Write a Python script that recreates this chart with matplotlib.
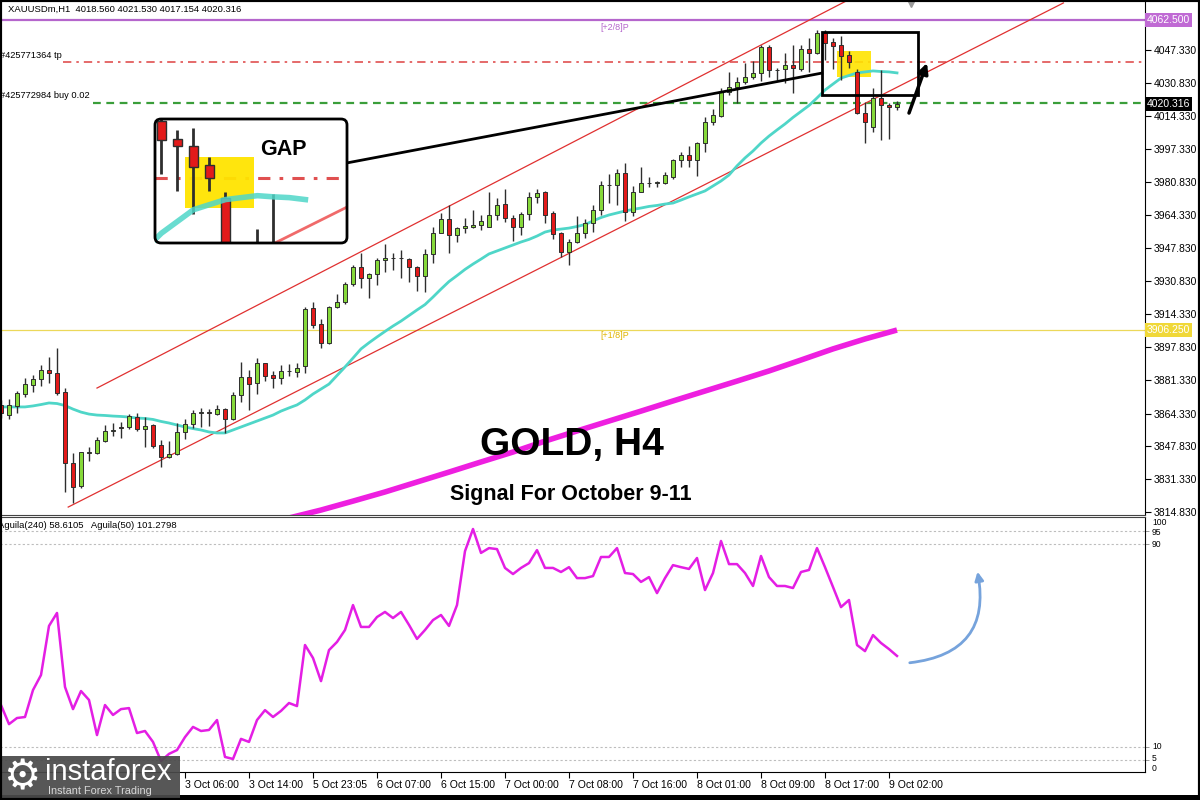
import matplotlib
matplotlib.use("Agg")
import matplotlib.pyplot as plt
import matplotlib.transforms as mtransforms
from matplotlib.patches import Rectangle, FancyBboxPatch, FancyArrowPatch

plt.rcParams['font.family'] = ['Liberation Sans', 'DejaVu Sans']

# ---------------- data (XAUUSDm, H1) ----------------
opens = [3868.7, 3863.6, 3868.2, 3874.2, 3878.7, 3881.7, 3886.3, 3884.8, 3875.4, 3839.6,
         3827.9, 3844.6, 3844.3, 3850.5, 3855.8, 3857.6, 3857.6, 3862.6, 3856.6, 3858.6,
         3848.5, 3842.5, 3844.0, 3855.1, 3859.1, 3864.6, 3865.1, 3864.1, 3866.6, 3861.6,
         3873.7, 3882.7, 3879.7, 3889.8, 3883.8, 3882.2, 3885.8, 3885.3, 3888.3, 3917.5,
         3909.4, 3899.9, 3917.9, 3920.5, 3929.6, 3938.1, 3932.6, 3934.6, 3941.6, 3942.4,
         3942.6, 3942.1, 3938.1, 3933.6, 3944.7, 3955.2, 3962.3, 3954.2, 3957.7, 3958.1,
         3959.1, 3958.3, 3964.3, 3969.8, 3962.8, 3958.3, 3964.8, 3973.4, 3975.9, 3965.3,
         3955.2, 3945.7, 3950.7, 3955.2, 3960.3, 3966.8, 3979.4, 3979.4, 3985.4, 3965.8,
         3975.9, 3980.4, 3980.4, 3980.4, 3983.4, 3992.0, 3994.5, 3992.0, 4000.5, 4011.1,
         4014.1, 4026.2, 4028.7, 4031.2, 4033.8, 4035.8, 4048.8, 4037.3, 4037.8, 4039.8,
         4037.8, 4047.8, 4045.8, 4055.9, 4051.2, 4049.6, 4044.6, 4036.1, 4015.6, 4008.6,
         4023.2, 4019.7, 4018.56]
highs = [3871.2, 3871.7, 3875.5, 3882.5, 3884.0, 3889.0, 3892.6, 3897.4, 3877.3, 3844.3,
         3845.0, 3847.6, 3852.7, 3858.7, 3859.6, 3860.1, 3864.3, 3864.6, 3862.6, 3859.3,
         3851.0, 3850.5, 3859.6, 3861.4, 3866.3, 3867.0, 3866.5, 3868.7, 3867.3, 3875.2,
         3890.3, 3886.1, 3892.3, 3889.8, 3885.8, 3888.8, 3889.3, 3889.8, 3918.0, 3920.5,
         3912.2, 3918.3, 3924.5, 3930.8, 3939.0, 3945.1, 3935.1, 3942.8, 3949.8, 3945.3,
         3946.7, 3942.6, 3938.6, 3947.0, 3958.2, 3965.1, 3969.3, 3958.4, 3962.6, 3967.0,
         3964.2, 3975.9, 3972.6, 3977.5, 3964.3, 3965.6, 3975.8, 3977.5, 3976.6, 3966.3,
         3955.7, 3952.3, 3963.9, 3962.3, 3969.3, 3981.4, 3984.9, 3987.4, 3990.4, 3979.1,
         3988.4, 3983.6, 3981.2, 3986.1, 3992.5, 3996.2, 3998.8, 4001.0, 4013.6, 4017.5,
         4028.4, 4036.2, 4033.8, 4040.6, 4041.6, 4049.6, 4049.6, 4038.3, 4045.8, 4049.8,
         4049.8, 4053.4, 4057.4, 4057.4, 4053.5, 4054.2, 4046.7, 4037.8, 4021.2, 4028.2,
         4037.3, 4020.7, 4021.53]
lows = [3862.1, 3861.6, 3864.5, 3872.6, 3875.4, 3878.0, 3879.7, 3873.7, 3825.0, 3819.2,
        3827.0, 3840.5, 3843.8, 3850.0, 3853.0, 3852.0, 3856.6, 3855.6, 3847.5, 3847.2,
        3837.4, 3842.1, 3843.3, 3851.5, 3857.0, 3857.7, 3858.0, 3863.6, 3854.6, 3861.0,
        3870.2, 3866.3, 3874.2, 3880.5, 3877.0, 3879.2, 3883.3, 3883.0, 3884.6, 3907.4,
        3897.4, 3899.2, 3917.5, 3919.3, 3928.8, 3927.6, 3922.5, 3929.1, 3935.6, 3936.6,
        3932.4, 3930.8, 3926.0, 3925.6, 3940.1, 3955.0, 3945.2, 3950.8, 3955.2, 3957.6,
        3956.7, 3958.3, 3961.9, 3960.8, 3951.2, 3954.2, 3961.8, 3970.3, 3960.3, 3952.1,
        3943.1, 3939.1, 3950.3, 3952.7, 3955.7, 3964.2, 3970.3, 3969.3, 3961.3, 3963.7,
        3975.9, 3978.5, 3978.5, 3979.7, 3982.5, 3988.6, 3988.6, 3983.9, 3995.9, 4009.4,
        4013.6, 4024.7, 4020.7, 4030.0, 4032.7, 4031.9, 4033.9, 4032.2, 4030.7, 4025.7,
        4036.8, 4036.3, 4045.3, 4042.3, 4037.9, 4032.1, 4038.1, 4015.1, 4000.5, 4006.1,
        4002.0, 4002.5, 4017.154]
closes = [3864.7, 3868.7, 3874.7, 3879.2, 3881.8, 3886.3, 3884.8, 3874.7, 3839.6, 3827.5,
          3844.8, 3844.8, 3851.0, 3855.6, 3856.1, 3857.3, 3863.1, 3856.6, 3858.1, 3848.0,
          3842.5, 3844.0, 3855.1, 3859.1, 3864.6, 3865.1, 3864.6, 3866.6, 3861.6, 3873.7,
          3882.7, 3879.2, 3889.8, 3883.3, 3882.2, 3885.8, 3885.8, 3887.3, 3916.8, 3908.9,
          3899.9, 3917.9, 3920.5, 3929.6, 3938.1, 3932.6, 3934.6, 3941.6, 3942.6, 3942.6,
          3942.4, 3938.1, 3933.6, 3944.7, 3955.2, 3962.3, 3954.2, 3957.7, 3958.7, 3959.1,
          3961.3, 3964.3, 3969.3, 3962.8, 3958.3, 3964.8, 3973.4, 3975.4, 3964.3, 3954.7,
          3945.7, 3950.7, 3955.2, 3960.3, 3966.8, 3979.4, 3979.4, 3985.4, 3965.8, 3975.9,
          3980.4, 3980.4, 3980.9, 3984.4, 3992.0, 3994.5, 3992.0, 4000.5, 4011.1, 4014.6,
          4026.2, 4028.7, 4031.2, 4033.8, 4035.8, 4048.8, 4037.3, 4037.3, 4039.8, 4038.3,
          4047.8, 4045.8, 4055.9, 4051.0, 4049.5, 4044.1, 4041.2, 4015.6, 4011.1, 4023.2,
          4019.7, 4018.7, 4020.316]

# fast moving average (cyan), one value per candle
ma_fast = [3867.7, 3867.7, 3867.7, 3867.7, 3868.2, 3868.9, 3869.7, 3869.4, 3868.4, 3866.6,
           3865.1, 3864.1, 3863.6, 3863.4, 3863.1, 3862.9, 3862.6, 3862.1, 3861.9, 3861.4,
           3860.4, 3859.6, 3858.6, 3857.6, 3856.8, 3856.1, 3855.1, 3854.6, 3854.6, 3856.1,
           3857.6, 3859.1, 3860.6, 3862.1, 3863.6, 3865.6, 3867.2, 3868.7, 3871.2, 3874.2,
           3876.7, 3879.2, 3883.5, 3887.8, 3892.3, 3896.9, 3900.0, 3902.9, 3905.7, 3908.4,
           3910.9, 3913.7, 3916.5, 3919.2, 3923.0, 3927.0, 3930.8, 3933.8, 3936.9, 3939.6,
           3942.1, 3944.7, 3946.2, 3947.7, 3949.2, 3950.7, 3952.0, 3953.7, 3955.7, 3956.7,
           3957.2, 3957.7, 3958.5, 3959.5, 3961.3, 3963.0, 3964.3, 3965.3, 3966.3, 3967.1,
           3967.8, 3968.6, 3969.1, 3969.8, 3970.3, 3971.8, 3973.4, 3974.9, 3976.4, 3978.9,
           3981.4, 3984.4, 3989.0, 3993.0, 3996.5, 4000.5, 4004.0, 4007.1, 4010.1, 4013.4,
           4016.4, 4019.4, 4023.2, 4027.2, 4030.2, 4033.2, 4034.5, 4035.8, 4036.3, 4036.8,
           4036.5, 4036.3, 4035.8]

# slow moving average (thick magenta), read every 4th candle
ma_slow_idx = [36, 40, 44, 48, 52, 56, 60, 64, 68, 72, 76, 80, 84, 88, 92, 96, 100, 104, 108, 112]
ma_slow = [3811.8, 3815.8, 3820.3, 3824.9, 3829.9, 3834.9, 3840.0, 3845.0, 3850.5, 3855.6,
           3860.6, 3865.6, 3870.7, 3875.7, 3880.7, 3885.8, 3891.3, 3896.9, 3901.9, 3906.4]

# oscillator in the lower window, one value per candle
aguila = [26.6, 19.1, 21.5, 21.9, 32.5, 38.4, 57.7, 62.8, 33.7, 25.0,
          32.1, 28.6, 14.8, 26.6, 22.7, 25.0, 25.4, 15.6, 16.4, 12.1,
          4.6, 7.4, 8.9, 14.0, 18.0, 16.4, 16.8, 20.7, 6.2, 5.4,
          13.3, 12.1, 20.7, 24.6, 21.9, 24.3, 27.4, 26.2, 50.2, 45.1,
          36.0, 48.2, 51.4, 56.1, 65.9, 57.3, 57.3, 61.2, 63.2, 60.8,
          63.2, 58.1, 52.6, 56.1, 60.0, 62.0, 57.7, 65.9, 87.1, 95.8,
          86.4, 88.3, 87.9, 80.5, 78.1, 80.5, 82.4, 87.5, 80.5, 80.5,
          78.9, 80.8, 76.5, 76.5, 77.3, 84.8, 84.8, 88.3, 78.5, 78.1,
          75.0, 76.9, 70.6, 76.5, 81.6, 80.8, 80.1, 84.4, 71.8, 78.5,
          91.1, 82.0, 82.0, 78.5, 73.4, 85.2, 76.9, 73.4, 73.4, 72.6,
          78.9, 79.7, 88.3, 80.8, 73.0, 65.1, 67.9, 50.2, 47.8, 54.1,
          51.0, 48.6, 45.9]

# horizontal levels and drawn objects
level_top = 4062.500        # [+2/8]P
level_mid = 3906.250        # [+1/8]P
tp_price = 4041.4
buy_price = 4020.9
last_price = 4020.316
channel_upper = ([12.0, 105.9], [3877.2, 4072.5])
channel_lower = ([8.4, 132.8], [3817.3, 4071.0])
box_i = (102.6, 114.6)
box_p = (4024.7, 4056.4)
gap_i = (104.5, 108.8)
gap_p = (4033.6, 4046.8)
connector = ([43.25, 102.6], [3990.5, 4035.7])
arrow_main = ((113.5, 4015.6), (115.75, 4040.8))
arrow_osc = ((113.25, 43.1), (122.0, 80.1))

price_ticks = [4047.33, 4030.83, 4014.33, 3997.33, 3980.83, 3964.33, 3947.83, 3930.83,
               3914.33, 3897.83, 3881.33, 3864.33, 3847.83, 3831.33, 3814.83]
osc_levels = [95, 90, 10, 5]
osc_labels = [100, 95, 90, 10, 5, 0]
tick_idx = [23, 31, 39, 47, 55, 63, 71, 79, 87, 95, 103, 111]
tick_labels = ['3 Oct 06:00', '3 Oct 14:00', '5 Oct 23:05', '6 Oct 07:00', '6 Oct 15:00',
               '7 Oct 00:00', '7 Oct 08:00', '7 Oct 16:00', '8 Oct 01:00', '8 Oct 09:00',
               '8 Oct 17:00', '9 Oct 02:00']

GREEN = '#86d93a'
RED = '#e31a1a'
WICK = '#2e2e2e'
CYAN = '#4fd6c8'

W, H = 1200, 800


def fig_box(x0, y0, x1, y1):
    # pixel box (origin top-left) -> figure fraction rect
    return [x0 / W, 1 - y1 / H, (x1 - x0) / W, (y1 - y0) / H]


def draw_candles(a, width=0.6, lw_wick=1.0, lw_edge=0.7):
    n = len(opens)
    a.vlines(range(n), lows, highs, color=WICK, lw=lw_wick, zorder=3)
    for i in range(n):
        o, c = opens[i], closes[i]
        up = c >= o
        a.add_patch(Rectangle((i - width / 2, min(o, c)), width, max(abs(c - o), 0.15),
                              fc=GREEN if up else RED, ec=WICK, lw=lw_edge, zorder=4))


fig = plt.figure(figsize=(12, 8), dpi=100)
fig.patch.set_facecolor('white')

# ---------------- main price window ----------------
ax = fig.add_axes(fig_box(0, 0, 1145, 515))
ax.set_xlim(-0.125, 143)
ax.set_ylim(3813.31, 4072.49)

ax.axhline(level_top, color='#b566cc', lw=1.6, zorder=1)
ax.axhline(level_mid, color='#ecd85a', lw=0.9, zorder=1)
ax.hlines(tp_price, 7.8, 143, colors='#e05050', lw=1.2, linestyles=(0, (5, 3, 1.5, 3)), zorder=1)
ax.hlines(buy_price, 11.5, 143, colors='#3a9e3a', lw=1.6, linestyles=(0, (3.5, 2.5)), zorder=1)

ax.plot(*channel_upper, color='#e03030', lw=0.9, zorder=2)
ax.plot(*channel_lower, color='#e03030', lw=0.9, zorder=2)
ax.plot(ma_slow_idx, ma_slow, color='#ee1fe0', lw=4, zorder=2, solid_capstyle='butt')
ax.plot(range(len(ma_fast)), ma_fast, color=CYAN, lw=2, zorder=2)

ax.add_patch(Rectangle((gap_i[0], gap_p[0]), gap_i[1] - gap_i[0], gap_p[1] - gap_p[0],
                       fc='#ffe400', ec='none', alpha=0.9, zorder=1.5))
draw_candles(ax)

ax.add_patch(Rectangle((box_i[0], box_p[0]), box_i[1] - box_i[0], box_p[1] - box_p[0],
                       fill=False, ec='black', lw=2, zorder=6))
ax.plot(*connector, color='black', lw=2, zorder=6)
ax.annotate('', xy=arrow_main[1], xytext=arrow_main[0],
            arrowprops=dict(arrowstyle='-|>,head_length=0.6,head_width=0.3', color='black',
                            lw=2.5, shrinkA=0, shrinkB=0), zorder=6)
ax.plot(113.8, 4072.49, marker='v', ms=10, color='#9a9a9a', clip_on=True, zorder=6)

ax.text(76.75, 4058.9, '[+2/8]P', color='#b566cc', fontsize=6.5, ha='center', va='center')
ax.text(76.75, 3903.4, '[+1/8]P', color='#e0b400', fontsize=6.5, ha='center', va='center')

blend = mtransforms.blended_transform_factory(ax.transAxes, ax.transData)
ax.annotate('#425771364 tp', xy=(0, tp_price), xycoords=blend, xytext=(0, 1.5),
            textcoords='offset points', fontsize=6.7, va='bottom')
ax.annotate('#425772984 buy 0.02', xy=(0, buy_price), xycoords=blend, xytext=(0, 1.5),
            textcoords='offset points', fontsize=6.7, va='bottom')

ax.yaxis.tick_right()
ax.set_yticks(price_ticks)
ax.set_yticklabels([f'{t:.3f}' for t in price_ticks])
ax.tick_params(axis='y', direction='out', length=4, width=0.8, labelsize=7.5, pad=2)
ax.set_xticks([])
for s in ['left', 'top']:
    ax.spines[s].set_visible(False)
ax.spines['bottom'].set_color('#444444')
ax.spines['right'].set_color('black')


def price_tag(y, text, fc, tc):
    ax.text(1.0015, y, text, transform=blend, ha='left', va='center', fontsize=7.5, color=tc,
            bbox=dict(boxstyle='square,pad=0.18', fc=fc, ec='none'), clip_on=False, zorder=10)


price_tag(level_top, '4062.500', '#c06ad4', 'white')
price_tag(last_price, '4020.316', 'black', 'white')
price_tag(level_mid, '3906.250', '#f0d838', 'white')

fig.text(8 / W, 1 - 9 / H, 'XAUUSDm,H1  4018.560 4021.530 4017.154 4020.316',
         fontsize=6.8, va='center')

# titles
fig.text(572 / W, 1 - 445 / H, 'GOLD, H4', fontsize=28, fontweight='bold', ha='center',
         va='center', zorder=8)
fig.text(571 / W, 1 - 494 / H, 'Signal For October 9-11', fontsize=15.5, fontweight='bold',
         ha='center', va='center', zorder=8)

# ---------------- oscillator window ----------------
ax2 = fig.add_axes(fig_box(0, 517, 1145, 772))
ax2.set_xlim(-0.125, 143)
ax2.set_ylim(0.28, 100.52)
for lv in osc_levels:
    ax2.axhline(lv, color='#bdbdbd', lw=0.8, ls=(0, (2, 2)), zorder=1)
ax2.plot(range(len(aguila)), aguila, color='#e41ee4', lw=1.8, zorder=3)
ax2.add_patch(FancyArrowPatch(arrow_osc[0], arrow_osc[1], connectionstyle='arc3,rad=0.55',
                              arrowstyle='-|>,head_length=5,head_width=2.5', color='#76a3dc',
                              lw=2, zorder=4))

ax2.yaxis.tick_right()
ax2.set_yticks(osc_levels)
ax2.set_yticklabels([])
ax2.tick_params(axis='y', direction='out', length=3, width=0.6, color='#888888')
blend2 = mtransforms.blended_transform_factory(ax2.transAxes, ax2.transData)
# small vertical nudges (points) so the crowded level labels stay apart
label_shift = {100: -3.2, 95: -1.4, 90: -0.6, 10: 0.3, 5: 1.2, 0: 3.0}
for lv in osc_labels:
    ax2.annotate(str(lv), xy=(1.0, lv), xycoords=blend2, xytext=(5, label_shift[lv]),
                 textcoords='offset points', fontsize=6.2, va='center', ha='left',
                 annotation_clip=False)

ax2.set_xticks(tick_idx)
ax2.set_xticklabels(tick_labels, fontsize=7.6, ha='left')
ax2.tick_params(axis='x', direction='out', length=4, width=0.8, pad=2)
ax2.spines['left'].set_visible(False)
ax2.spines['top'].set_color('#444444')

fig.text(-2 / W, 1 - 526 / H, 'Aguila(240) 58.6105   Aguila(50) 101.2798', fontsize=6.8,
         va='center')

# ---------------- GAP inset (2x view of the boxed area) ----------------
axg = fig.add_axes(fig_box(155, 119, 347, 243))
axg.set_xlim(*box_i)
axg.set_ylim(*box_p)
axg.set_xticks([])
axg.set_yticks([])
for s in axg.spines.values():
    s.set_visible(False)
axg.add_patch(Rectangle((gap_i[0], gap_p[0]), gap_i[1] - gap_i[0], gap_p[1] - gap_p[0],
                        fc='#ffe400', ec='none', alpha=0.95, zorder=1.5))
axg.hlines(tp_price, box_i[0], box_i[1], colors='#e05050', lw=2.2,
           linestyles=(0, (4, 3, 1.2, 3)), zorder=1)
axg.plot(*channel_lower, color='#f06a6a', lw=2, zorder=2)
axg.plot(range(len(ma_fast)), ma_fast, color=CYAN, lw=4, alpha=0.85, zorder=5)
draw_candles(axg, lw_wick=2, lw_edge=1)
axg.text(0.667, 0.758, 'GAP', transform=axg.transAxes, fontsize=15.5, fontweight='bold',
         ha='center', va='center')
fig.add_artist(FancyBboxPatch((155 / W, 1 - 243 / H), 192 / W, 124 / H,
                              boxstyle='round,pad=0,rounding_size=0.005', mutation_aspect=1.5,
                              transform=fig.transFigure, fc='none', ec='black', lw=2, zorder=15))

# ---------------- logo and frame ----------------
fig.add_artist(Rectangle((0, 0), 180 / W, 44 / H, transform=fig.transFigure, fc='#4a4a4a',
                         ec='none', alpha=0.93, zorder=20))
fig.text(22 / W, 1 - 777 / H, '\u2699', fontsize=30, color='white', ha='center', va='center',
         family='DejaVu Sans', zorder=21)
fig.text(45 / W, 1 - 772 / H, 'instaforex', fontsize=21, color='white', va='center', zorder=21)
fig.text(48 / W, 1 - 791 / H, 'Instant Forex Trading', fontsize=7.8, color='#d8d8d8',
         va='center', zorder=21)
fig.add_artist(Rectangle((0, 0), 1, 5 / H, transform=fig.transFigure, fc='black', ec='none',
                         zorder=19))
fig.add_artist(Rectangle((0, 0), 1, 1, transform=fig.transFigure, fill=False, ec='black',
                         lw=3, zorder=22))

fig.savefig('out.png', dpi=100)
